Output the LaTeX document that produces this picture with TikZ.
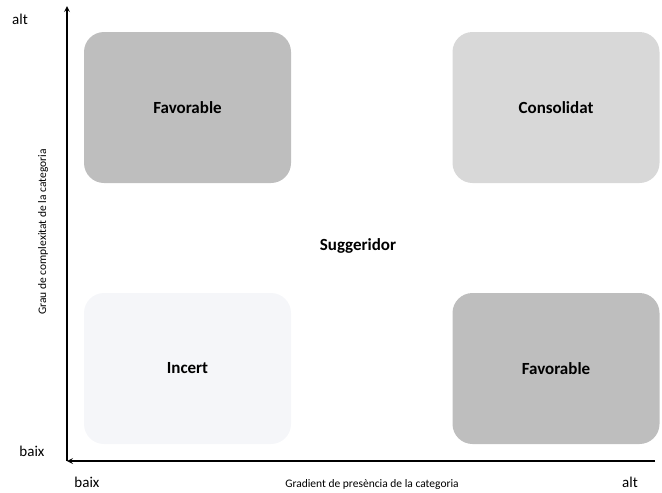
\documentclass[tikz,border=0pt]{standalone}
\usepackage{fontspec}
\setmainfont{Carlito}
\usepackage{tikz}
\usetikzlibrary{positioning}

\definecolor{midgrey}{RGB}{190,190,190}
\definecolor{lightgrey}{RGB}{216,216,216}
\definecolor{palegrey}{RGB}{245,246,249}

\begin{document}
\begin{tikzpicture}[x=1pt, y=-1pt]
        \tikzstyle{every node}=[font=\fontsize{15}{17}\selectfont]
        \tikzstyle{box}=[rounded corners=20pt, minimum width=207pt, minimum height=151pt,
                         font=\fontsize{17}{19}\selectfont\bfseries]
        \tikzstyle{axis}=[line width=1.6pt, -stealth]
        \tikzstyle{axislabel}=[font=\fontsize{11.5}{13}\selectfont]

        \useasboundingbox (0,0) rectangle (662,493);

        % the four quadrants
        \node (fav1) [box, fill=midgrey]   at (187.5,107.5) {Favorable};
        \node (cons) [box, fill=lightgrey] at (556,107.5)   {Consolidat};
        \node (inc)  [box, fill=palegrey]  at (187.5,368.5) {Incert};
        \node (fav2) [box, fill=midgrey]   at (556,368.5)   {Favorable};
        \node (sug)  [font=\fontsize{17}{19}\selectfont\bfseries] at (358,246) {Suggeridor};

        % axes
        \coordinate (orig) at (67,461);
        \coordinate (ytop) at (67,6);
        \coordinate (xend) at (655,461);
        \draw[axis] (orig) -- (ytop);
        \draw[axis] (xend) -- (orig);

        \node (yhi) at (20,19)  {alt};
        \node (ylo) at (32,451) {baix};
        \node (xlo) at (87,482) {baix};
        \node (xhi) at (630,482) {alt};
        \node (xlab) [axislabel] at (372,484) {Gradient de presència de la categoria};
        \node (ylab) [axislabel, rotate=90] at (43,232) {Grau de complexitat de la categoria};

    \end{tikzpicture}
\end{document}
